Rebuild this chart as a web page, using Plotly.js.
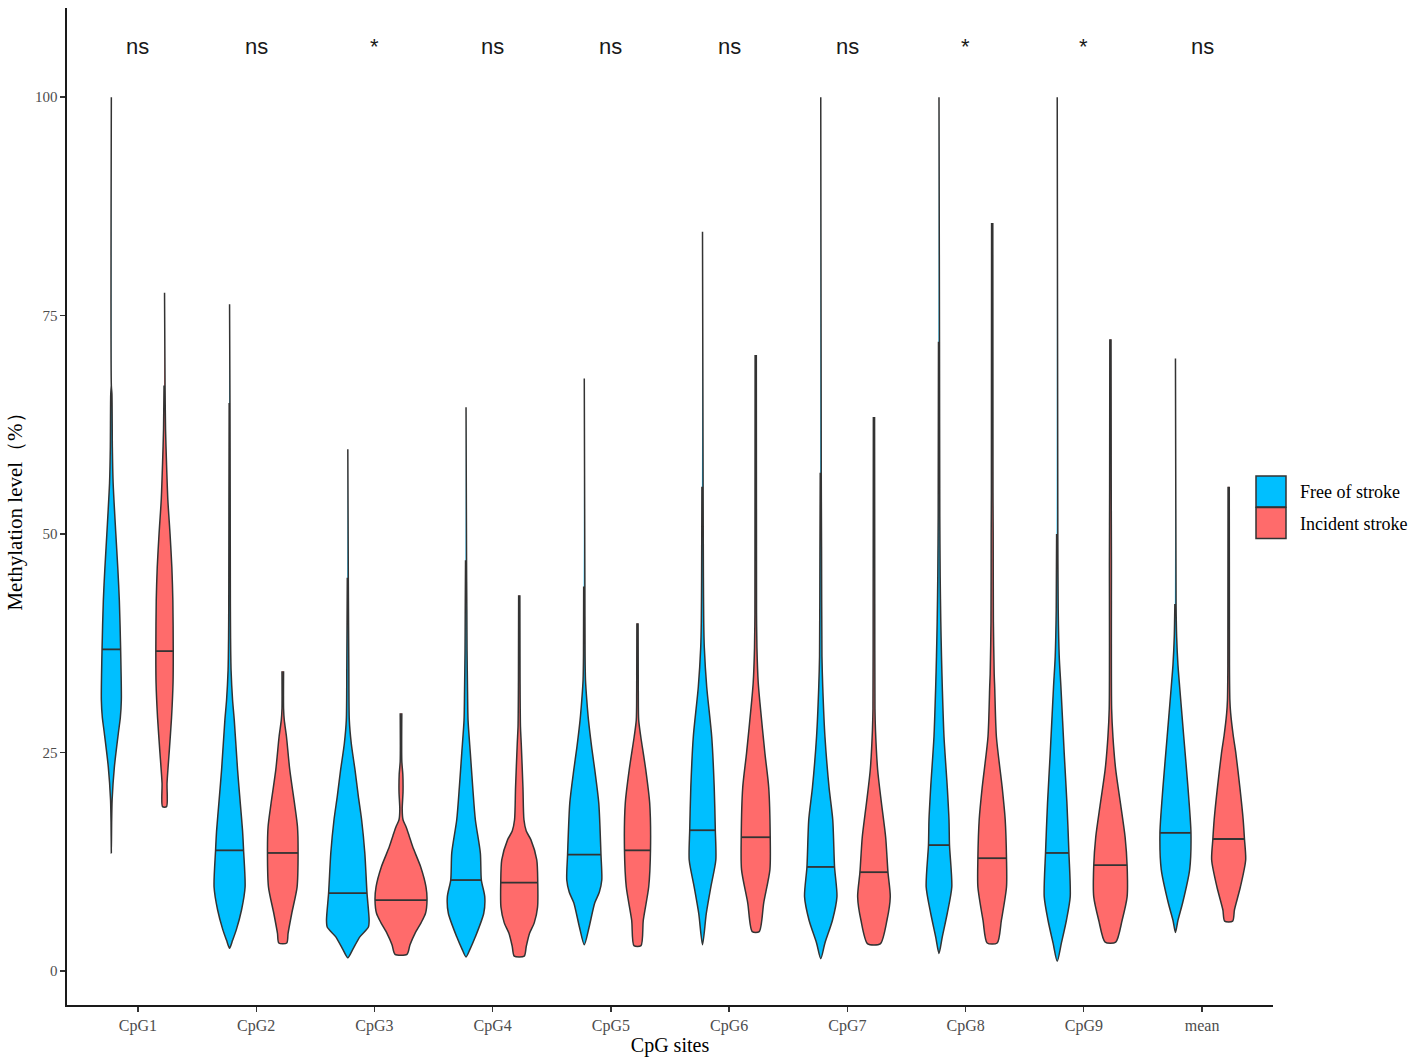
<!DOCTYPE html>
<html>
<head>
<meta charset="utf-8">
<script src="https://cdn.plot.ly/plotly-3.0.1.min.js"></script>
<style>
  body { margin: 0; background: #fff; }
  #chart { width: 1418px; height: 1064px; }
</style>
</head>
<body>
<div id="chart"></div>
<script>
// categories and significance labels
const sites = ['CpG1', 'CpG2', 'CpG3', 'CpG4', 'CpG5', 'CpG6', 'CpG7', 'CpG8', 'CpG9', 'mean'];
const sigLabels = ['ns', 'ns', '*', 'ns', 'ns', 'ns', 'ns', '*', '*', 'ns'];
const groups = ['Free of stroke', 'Incident stroke'];

// medians (%)
const freeMedians = [36.8, 13.8, 8.9, 10.4, 13.3, 16.1, 11.9, 14.4, 13.5, 15.8];
const strokeMedians = [36.6, 13.5, 8.1, 10.1, 13.8, 15.3, 11.3, 12.9, 12.1, 15.1];

// violin profiles: [level %, density], top to bottom
const freeCpG1 = [[100, 0], [67, 0], [66, 0.6], [60, 1], [55.8, 1.8], [50, 4.5], [46, 6.5], [42.4, 8], [36.8, 9.3], [31, 10], [29, 9], [27.2, 7], [23.3, 3], [19.6, 0.8], [17, 0.3], [13.5, 0]];
const strokeCpG1 = [[77.6, 0], [67, 0.5], [62, 1], [58, 2], [53.9, 3.3], [50, 5.5], [46.2, 7.3], [42.4, 8.3], [36.7, 8.7], [33, 8.5], [29, 7], [25.3, 4.8], [21.5, 2.5], [18.8, 2]];
const freeCpG2 = [[76.3, 0], [65, 0.4], [55, 0.6], [42, 0.8], [38, 1], [34.4, 1.5], [31, 3], [28.7, 4.7], [23, 8], [19.2, 10.7], [16, 13], [13.8, 14], [9.6, 15.5], [7, 12], [4.7, 6.7], [3.5, 3], [2.6, 0]];
const strokeCpG2 = [[34.3, 0.8], [30, 0.8], [28.7, 1.5], [26.8, 3.7], [23, 7], [19.2, 11.7], [16.5, 14.7], [13.5, 15.3], [9.6, 14.3], [6.6, 9], [4.3, 5.3], [3.2, 4]];
const freeCpG3 = [[59.7, 0], [45, 0.5], [35, 1], [28.7, 1.5], [26, 3.5], [23, 7.2], [20, 10.5], [17.3, 13.8], [13.5, 17], [8.9, 19.2], [5.8, 21.3], [5, 20.5], [3.9, 12], [2.4, 4.7], [1.5, 0]];
const strokeCpG3 = [[29.5, 0.8], [24, 0.8], [22.5, 1.8], [20.5, 2], [18.5, 1.2], [17.3, 2], [16.5, 5], [15.5, 8], [14.2, 11.7], [11.9, 19.7], [9.6, 25], [8.1, 26], [6.6, 24.5], [5.5, 20], [4.3, 14], [3, 9], [1.9, 6]];
const freeCpG4 = [[64.5, 0], [47, 0.5], [41.3, 0.8], [36.7, 1], [32, 1.5], [28.7, 2], [24.9, 4.3], [21, 6.7], [17.3, 9.3], [13.5, 14.3], [10.4, 15.3], [8.5, 18.7], [6.6, 17.7], [3.9, 9.3], [2.5, 4], [1.6, 0]];
const strokeCpG4 = [[43, 0.6], [33.3, 0.8], [28, 1.2], [26, 2], [21, 3.7], [17.3, 4.7], [16, 7], [15, 11.7], [12.7, 17.5], [10.1, 18.5], [7.3, 18.3], [5.5, 15], [4.3, 10.3], [2.8, 7], [1.7, 5]];
const freeCpG5 = [[67.8, 0], [44, 0.6], [36, 0.8], [33.3, 1.2], [31, 2.5], [28.7, 4.2], [25.5, 7.5], [23, 10.5], [19.2, 14.5], [13.3, 16.7], [10.4, 17.5], [9, 15], [7.8, 10.5], [5, 4.8], [3, 0]];
const strokeCpG5 = [[39.8, 0.6], [32, 0.8], [28.7, 1.2], [26.8, 3.3], [23, 8.3], [19.2, 12.2], [13.8, 13], [9.6, 11.2], [5.8, 5.8], [2.9, 3.5]];
const freeCpG6 = [[84.6, 0], [55.4, 0.6], [45, 0.9], [40, 1.2], [37, 1.8], [32.5, 4.2], [26.8, 9.2], [21, 11.7], [16.1, 12.8], [12.7, 13.3], [9.6, 8.3], [6.6, 3.8], [3, 0]];
const strokeCpG6 = [[70.5, 0.6], [41, 0.8], [37, 1.2], [33, 2.5], [30.7, 4.2], [24.9, 9.2], [21, 13], [15.3, 14.5], [11.6, 14.2], [7.8, 8], [4.5, 3.5]];
const freeCpG7 = [[100, 0], [57, 0.5], [48.5, 0.8], [36, 1.2], [32.5, 2], [26.8, 4.2], [21, 8.3], [17.3, 12], [11.9, 13.8], [8.5, 16.2], [5.8, 11.7], [3.2, 4.2], [1.4, 0]];
const strokeCpG7 = [[63.4, 0.6], [42, 0.8], [30, 1], [27.6, 1.5], [23, 3.7], [19.2, 7.5], [15.3, 11.7], [11.3, 14], [8.5, 16.3], [5.8, 13], [3.1, 6.3]];
const freeCpG8 = [[100, 0], [72, 0.5], [52, 0.8], [45, 1.2], [40, 1.8], [36, 2.5], [32.5, 3.3], [26.8, 5], [21, 8.3], [17.3, 10], [14.4, 10.5], [9.6, 12.8], [6.6, 8.3], [3.9, 3.3], [2, 0]];
const strokeCpG8 = [[85.6, 0.6], [54.7, 0.8], [50, 1], [40, 1.2], [34, 2], [32.5, 2.5], [26.8, 4.2], [21, 10], [17.3, 13], [12.9, 14.3], [9.6, 14.3], [5.8, 9.2], [3.2, 5]];
const freeCpG9 = [[100, 0], [50, 0.6], [41.3, 1], [36, 2], [32.5, 3.7], [24.9, 7], [19.2, 9.7], [13.5, 11.7], [8.5, 13], [5.8, 9.2], [3.2, 4.2], [1.1, 0]];
const strokeCpG9 = [[72.3, 0.6], [55, 0.8], [47, 1], [30, 1.2], [26.8, 2.5], [23, 5.3], [19.2, 10], [15.3, 14.7], [12, 16.7], [8.5, 16.7], [5.8, 11.7], [3.3, 5.3]];
const freeMean = [[70.1, 0], [42, 0.6], [38.2, 1.2], [35, 2.5], [32.5, 4.2], [26.8, 8.3], [21, 12.5], [15.8, 15.5], [11.6, 14.2], [7.8, 7.2], [5.8, 2.5], [4.4, 0]];
const strokeMean = [[55.4, 0.6], [35, 0.8], [31, 1.2], [29.5, 2], [27, 4.5], [24.9, 7.2], [21, 11.2], [17.3, 14.5], [15.1, 15.8], [12.7, 17], [9.6, 11.7], [7, 5.8], [5.7, 4]];

const freeProfiles = [freeCpG1, freeCpG2, freeCpG3, freeCpG4, freeCpG5, freeCpG6, freeCpG7, freeCpG8, freeCpG9, freeMean];
const strokeProfiles = [strokeCpG1, strokeCpG2, strokeCpG3, strokeCpG4, strokeCpG5, strokeCpG6, strokeCpG7, strokeCpG8, strokeCpG9, strokeMean];

const colors = ['#00BFFF', '#FF6B6B'];
const outline = '#333333';
const dodge = 0.225;
const densityScale = 1 / 118.2; // density units -> category units

// half width of a profile at a given level (linear between read points)
function widthAt(profile, level) {
  for (let i = 0; i < profile.length - 1; i++) {
    const [y0, d0] = profile[i];
    const [y1, d1] = profile[i + 1];
    if (level <= y0 && level >= y1) {
      const t = (y0 - level) / (y0 - y1);
      return d0 + t * (d1 - d0);
    }
  }
  return 0;
}

function violinTrace(profile, center, color) {
  const xs = [];
  const ys = [];
  profile.forEach(([y, d]) => { xs.push(center + d * densityScale); ys.push(y); });
  for (let i = profile.length - 1; i >= 0; i--) {
    const [y, d] = profile[i];
    if ((i === profile.length - 1 || i === 0) && d === 0) continue;
    xs.push(center - d * densityScale);
    ys.push(y);
  }
  return {
    type: 'scatter', mode: 'lines', x: xs, y: ys,
    fill: 'toself', fillcolor: color,
    line: { color: outline, width: 1.5, shape: 'spline', smoothing: 0.7 },
    hoverinfo: 'skip', showlegend: false,
  };
}

function medianTrace(profile, center, median) {
  const w = widthAt(profile, median) * densityScale;
  return {
    type: 'scatter', mode: 'lines',
    x: [center - w, center + w], y: [median, median],
    line: { color: outline, width: 1.8 },
    hoverinfo: 'skip', showlegend: false,
  };
}

const data = [];
sites.forEach((s, i) => {
  data.push(violinTrace(freeProfiles[i], i - dodge, colors[0]));
  data.push(medianTrace(freeProfiles[i], i - dodge, freeMedians[i]));
  data.push(violinTrace(strokeProfiles[i], i + dodge, colors[1]));
  data.push(medianTrace(strokeProfiles[i], i + dodge, strokeMedians[i]));
});

const margin = { l: 67, r: 145, t: 8, b: 59 };
const plotW = 1418 - margin.l - margin.r;
const plotH = 1064 - margin.t - margin.b;
const px = x => (x - margin.l) / plotW;
const py = y => (1064 - margin.b - y) / plotH;

const annotations = sites.map((s, i) => ({
  x: i, y: 105.8, xref: 'x', yref: 'y', text: sigLabels[i], showarrow: false,
  font: { family: 'Liberation Sans, Arial, sans-serif', size: 22, color: '#1a1a1a' },
}));

// legend drawn by hand to get ggplot-style square keys
const shapes = [];
groups.forEach((g, k) => {
  const top = 476 + k * 31.5;
  shapes.push({
    type: 'rect', xref: 'paper', yref: 'paper',
    x0: px(1256), x1: px(1286), y0: py(top + 31), y1: py(top),
    fillcolor: colors[k], line: { color: outline, width: 1.5 },
  });
  annotations.push({
    xref: 'paper', yref: 'paper', x: px(1298), y: py(top + 16),
    xanchor: 'left', yanchor: 'middle', text: g, showarrow: false,
    font: { family: 'Liberation Serif, Times New Roman, serif', size: 18, color: '#000' },
  });
});

const tickFont = { family: 'Liberation Serif, Times New Roman, serif', size: 16, color: '#4D4D4D' };

const layout = {
  width: 1418, height: 1064,
  margin: margin,
  paper_bgcolor: '#fff', plot_bgcolor: '#fff',
  showlegend: false,
  xaxis: {
    range: [-0.6, 9.6],
    tickvals: sites.map((s, i) => i), ticktext: sites,
    showgrid: false, zeroline: false,
    showline: true, linecolor: '#1a1a1a', linewidth: 1.6,
    ticks: 'outside', ticklen: 5, tickcolor: '#333', tickwidth: 1.3,
    tickfont: tickFont,
    title: { text: 'CpG sites', standoff: 4, font: { family: 'Liberation Serif, Times New Roman, serif', size: 20, color: '#000' } },
  },
  yaxis: {
    range: [-3.9, 110.2],
    tickvals: [0, 25, 50, 75, 100],
    showgrid: false, zeroline: false,
    showline: true, linecolor: '#1a1a1a', linewidth: 1.6,
    ticks: 'outside', ticklen: 5, tickcolor: '#333', tickwidth: 1.3,
    tickfont: { family: 'Liberation Serif, Times New Roman, serif', size: 15, color: '#4D4D4D' },
    title: { text: 'Methylation level（%）', standoff: 6, font: { family: 'Liberation Serif, Times New Roman, serif', size: 21, color: '#000' } },
  },
  annotations: annotations,
  shapes: shapes,
};

Plotly.newPlot('chart', data, layout, { staticPlot: true });
</script>
</body>
</html>
